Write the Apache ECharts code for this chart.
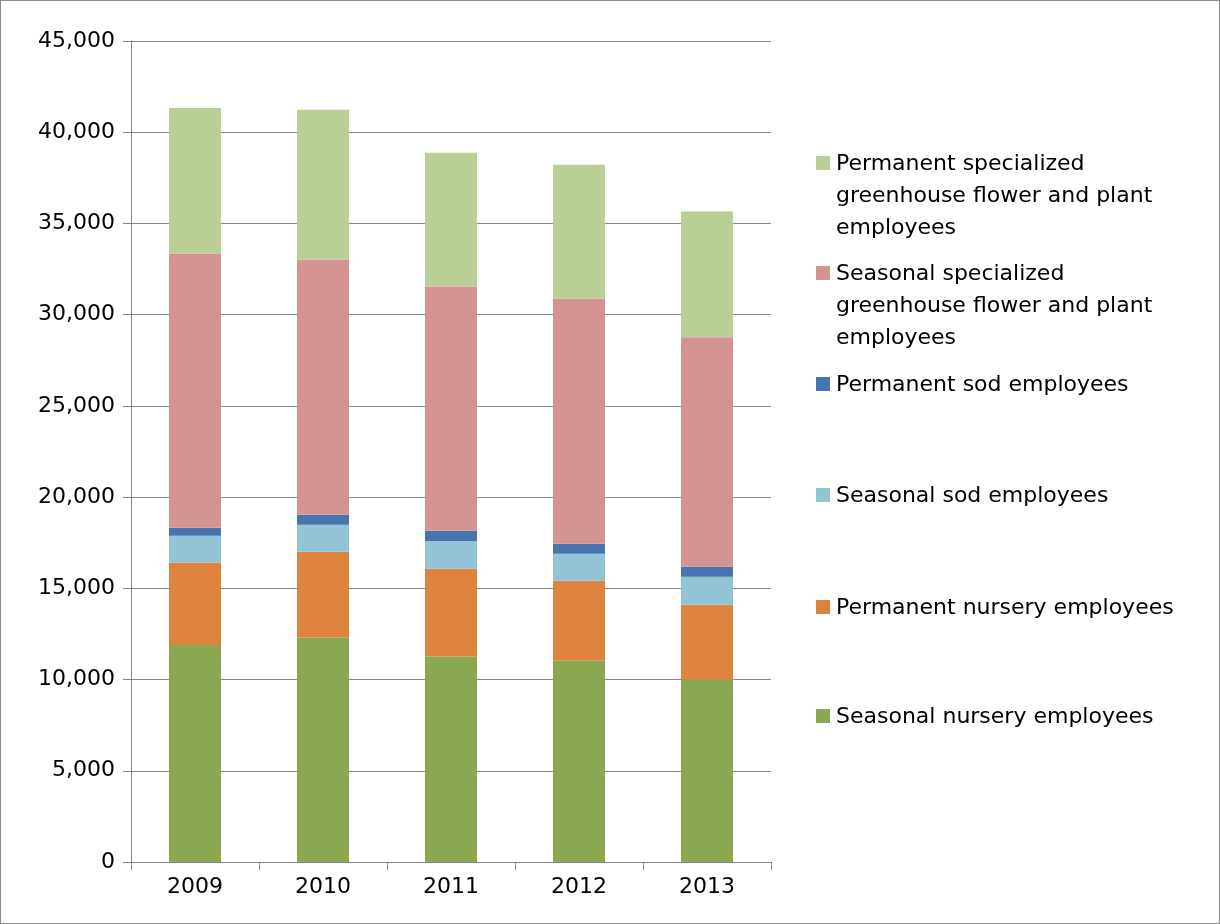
<!DOCTYPE html>
<html>
<head>
<meta charset="utf-8">
<script src="https://cdn.jsdelivr.net/npm/echarts@6/dist/echarts.min.js"></script>
<style>
  html, body { margin: 0; padding: 0; background: #fff; }
  #main { width: 1220px; height: 924px; box-sizing: border-box; border: 1px solid #8c8c8c; }
</style>
</head>
<body>
<div id="main"></div>
<script>
var years = ['2009', '2010', '2011', '2012', '2013'];

var seasonalNursery = [11900, 12300, 11260, 11040, 10000];
var permanentNursery = [4500, 4700, 4810, 4380, 4100];
var seasonalSod = [1480, 1480, 1530, 1470, 1540];
var permanentSod = [440, 550, 550, 550, 540];
var seasonalGreenhouse = [15030, 14000, 13400, 13450, 12580];
var permanentGreenhouse = [7980, 8200, 7320, 7330, 6890];

var names = [
	'Seasonal nursery employees',
	'Permanent nursery employees',
	'Seasonal sod employees',
	'Permanent sod employees',
	'Seasonal specialized\ngreenhouse flower and plant\nemployees',
	'Permanent specialized\ngreenhouse flower and plant\nemployees'
];
var colors = ['#8aa84f', '#dd833e', '#93c4d6', '#4574ae', '#d39391', '#b9cf95'];
var values = [seasonalNursery, permanentNursery, seasonalSod, permanentSod, seasonalGreenhouse, permanentGreenhouse];

// legend rows, top text line y, from top entry down
var legendTops = [147, 257, 368, 479, 591, 700];

var myChart = echarts.init(document.getElementById('main'));

var series = [];
for (var i = 0; i < values.length; i++) {
	series.push({
		type: 'bar',
		name: names[i],
		stack: 'all',
		barWidth: 52,
		itemStyle: { color: colors[i] },
		data: values[i]
	});
}

// legend drawn as graphic, reversed order
var graphic = [];
for (var j = 0; j < names.length; j++) {
	var idx = names.length - 1 - j;
	var rowTop = legendTops[j];
	graphic.push({
		type: 'rect', left: 815, top: rowTop + 8,
		shape: { width: 14, height: 14 },
		style: { fill: colors[idx] }
	});
	graphic.push({
		type: 'text', left: 835, top: rowTop,
		style: {
			text: names[idx], fill: '#000',
			font: '22px "DejaVu Sans", sans-serif',
			lineHeight: 32
		}
	});
}

var option = {
	animation: false,
	textStyle: { fontFamily: '"DejaVu Sans", sans-serif' },
	grid: { left: 130, right: 448, top: 40, bottom: 61 },
	xAxis: {
		type: 'category',
		data: years,
		axisLine: { lineStyle: { color: '#868686' } },
		axisTick: { show: true, length: 8, lineStyle: { color: '#868686' } },
		axisLabel: { color: '#000', fontSize: 22, margin: 14 }
	},
	yAxis: {
		type: 'value',
		min: 0, max: 45000, interval: 5000,
		axisLine: { show: true, lineStyle: { color: '#868686' } },
		axisTick: { show: true, length: 8, lineStyle: { color: '#868686' } },
		splitLine: { lineStyle: { color: '#868686' } },
		axisLabel: {
			color: '#000', fontSize: 22, margin: 16,
			formatter: function (v) { return v.toLocaleString('en-US'); }
		}
	},
	graphic: graphic,
	series: series
};

myChart.setOption(option);
</script>
</body>
</html>
